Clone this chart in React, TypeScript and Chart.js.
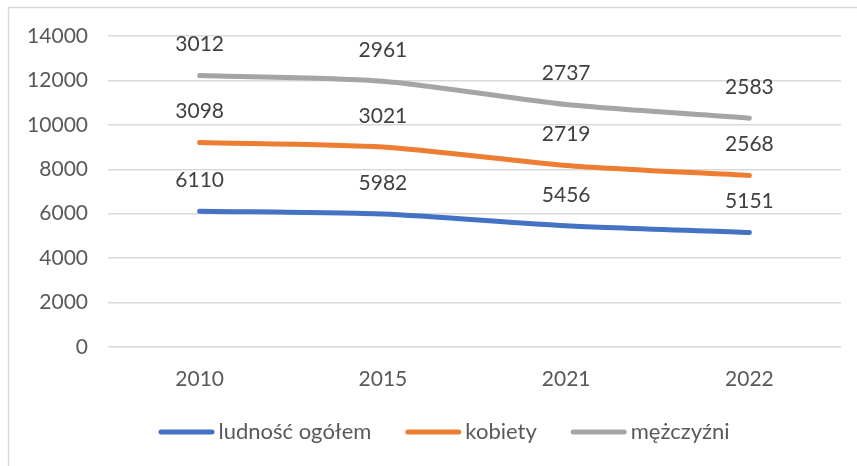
import React, { useEffect, useRef } from "react";
import { Chart, registerables } from "chart.js";

Chart.register(...registerables);

const categories = ["2010", "2015", "2021", "2022"];
const ogolem = [6110, 5982, 5456, 5151];
const kobiety = [3098, 3021, 2719, 2568];
const mezczyzni = [3012, 2961, 2737, 2583];
const seriesNames = ["ludność ogółem", "kobiety", "mężczyźni"];
const seriesColors = ["#4472C4", "#ED7D31", "#A5A5A5"];

const FONT = "Lato, 'Open Sans', sans-serif";

const framePlugin = {
  id: "frame",
  beforeDraw(chart: any) {
    const ctx = chart.ctx;
    ctx.save();
    ctx.fillStyle = "#ffffff";
    ctx.fillRect(0, 0, chart.width, chart.height);
    ctx.strokeStyle = "#d9d9d9";
    ctx.lineWidth = 1.5;
    ctx.beginPath();
    ctx.moveTo(8.5, chart.height);
    ctx.lineTo(8.5, 7.5);
    ctx.lineTo(chart.width, 7.5);
    ctx.stroke();
    ctx.restore();
  },
};

const labelsPlugin = {
  id: "valueLabels",
  afterDatasetsDraw(chart: any) {
    const ctx = chart.ctx;
    ctx.save();
    ctx.font = `21px ${FONT}`;
    ctx.fillStyle = "#404040";
    ctx.textAlign = "center";
    ctx.textBaseline = "middle";
    chart.data.datasets.forEach((ds: any, i: number) => {
      const meta = chart.getDatasetMeta(i);
      meta.data.forEach((pt: any, j: number) => {
        ctx.fillText(String(ds.data[j]), pt.x, pt.y - 31);
      });
    });
    ctx.restore();
  },
};

const legendPlugin = {
  id: "customLegend",
  afterDraw(chart: any) {
    const ctx = chart.ctx;
    ctx.save();
    ctx.font = `22px ${FONT}`;
    const lineLen = 56;
    const gap = 4;
    const spacing = 34;
    const widths = seriesNames.map((n) => ctx.measureText(n).width);
    const total =
      widths.reduce((a, w) => a + lineLen + gap + w, 0) + spacing * (seriesNames.length - 1);
    let x = 444 - total / 2;
    const y = 432;
    seriesNames.forEach((n, i) => {
      ctx.strokeStyle = seriesColors[i];
      ctx.lineWidth = 5;
      ctx.lineCap = "round";
      ctx.beginPath();
      ctx.moveTo(x + 2.5, y);
      ctx.lineTo(x + lineLen - 2.5, y);
      ctx.stroke();
      ctx.fillStyle = "#595959";
      ctx.textAlign = "left";
      ctx.textBaseline = "middle";
      ctx.fillText(n, x + lineLen + gap, y);
      x += lineLen + gap + widths[i] + spacing;
    });
    ctx.restore();
  },
};

export default function App() {
  const ref = useRef<HTMLCanvasElement>(null);
  useEffect(() => {
    if (!ref.current) return;
    const data = [ogolem, kobiety, mezczyzni];
    const chart = new Chart(ref.current, {
      type: "line",
      data: {
        labels: categories,
        datasets: seriesNames.map((name, i) => ({
          label: name,
          data: data[i],
          borderColor: seriesColors[i],
          backgroundColor: seriesColors[i],
          borderWidth: 5,
          borderCapStyle: "round",
          pointRadius: 0,
          tension: 0.25,
          fill: false,
        })),
      },
      options: {
        animation: false,
        responsive: false,
        maintainAspectRatio: false,
        layout: { padding: { top: 36, right: 16, bottom: 0, left: 0 } },
        plugins: {
          legend: { display: false },
          tooltip: { enabled: false },
          title: { display: false },
        },
        scales: {
          x: {
            offset: true,
            grid: { display: false, drawTicks: false },
            border: { display: false },
            ticks: {
              color: "#595959",
              font: { family: FONT, size: 21 },
              padding: 20,
            },
            afterFit(axis: any) {
              axis.height = 119;
            },
          },
          y: {
            stacked: true,
            min: 0,
            max: 14000,
            ticks: {
              stepSize: 2000,
              color: "#595959",
              font: { family: FONT, size: 21 },
              padding: 20,
              callback: (v: any) => String(v),
            },
            grid: { color: "#d9d9d9", lineWidth: 1.5, drawTicks: false },
            border: { display: false },
            afterFit(axis: any) {
              axis.width = 108;
            },
          },
        },
      },
      plugins: [framePlugin, labelsPlugin, legendPlugin],
    } as any);
    return () => chart.destroy();
  }, []);
  return (
    <div style={{ position: "fixed", left: 0, top: 0, width: 857, height: 466 }}>
      <canvas ref={ref} width={857} height={466} style={{ width: 857, height: 466 }} />
    </div>
  );
}
